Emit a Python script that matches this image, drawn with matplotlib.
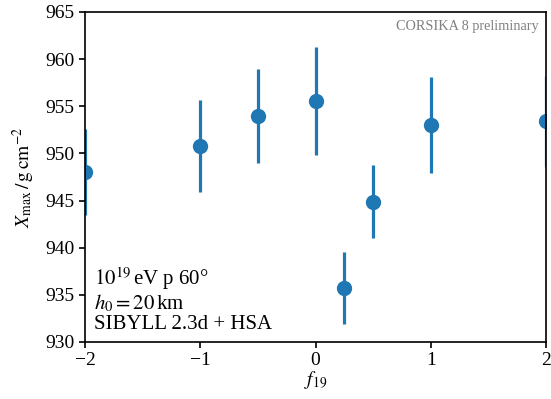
import matplotlib
matplotlib.use("Agg")
import matplotlib.pyplot as plt

plt.rcParams['font.family'] = ['Liberation Serif', 'DejaVu Serif']
plt.rcParams['mathtext.fontset'] = 'stix'
plt.rcParams['font.size'] = 13

f19 = [-2, -1, -0.5, 0, 0.25, 0.5, 1, 2]
xmax = [948.0, 950.8, 954.0, 955.6, 935.7, 944.9, 953.0, 953.4]
xerr_low = [4.5, 4.9, 5.0, 5.8, 3.8, 3.9, 5.1, 4.8]
xerr_high = [4.6, 4.9, 5.0, 5.7, 3.8, 3.9, 5.1, 4.8]

fig = plt.figure(figsize=(5.51, 3.99), dpi=100)
ax = fig.add_axes([85/551, 1-342/399, (546-85)/551, (342-12)/399])
ax.errorbar(f19, xmax, yerr=[xerr_low, xerr_high], fmt='o', color='#1f77b4',
            markersize=10, elinewidth=2.3, capsize=0)
ax.set_xlim(-2, 2)
ax.set_ylim(930, 965)
ax.set_xticks([-2, -1, 0, 1, 2])
ax.set_yticks([930, 935, 940, 945, 950, 955, 960, 965])
ax.tick_params(direction='out', length=4, width=1.2, labelsize=14)
for s in ax.spines.values():
    s.set_linewidth(1.2)
ax.set_xlabel(r'$f_{19}$', fontsize=14, labelpad=0)
ax.set_ylabel(r'$X_\mathrm{max}\,/\,\mathrm{g\,cm^{-2}}$', fontsize=14, labelpad=6)
ax.text(0.985, 0.975, 'CORSIKA 8 preliminary', transform=ax.transAxes,
        ha='right', va='top', fontsize=10.3, color='gray')
ax.text(0.02, 0.025, '$10^{19}\\,$eV p 60°\n$h_0 = 20\\,$km\nSIBYLL 2.3d + HSA',
        transform=ax.transAxes, ha='left', va='bottom', fontsize=15, linespacing=1.05)
fig.savefig('out.png', dpi=100)
